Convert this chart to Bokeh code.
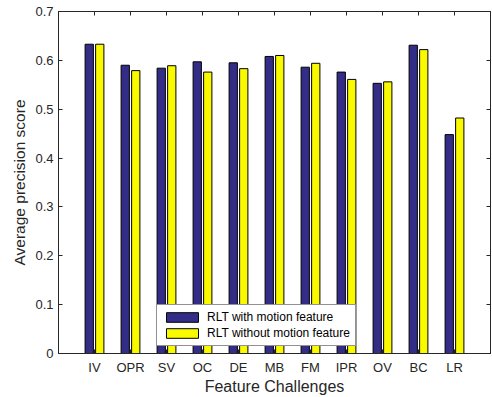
import numpy as np
from bokeh.plotting import figure
from bokeh.models import ColumnDataSource, Range1d, FixedTicker, LinearAxis
from bokeh.transform import dodge
from bokeh.embed import file_html
from bokeh.resources import INLINE

categories = ["IV", "OPR", "SV", "OC", "DE", "MB", "FM", "IPR", "OV", "BC", "LR"]
with_motion = [0.633, 0.590, 0.584, 0.597, 0.595, 0.608, 0.586, 0.576, 0.553, 0.631, 0.448]
without_motion = [0.633, 0.579, 0.589, 0.576, 0.583, 0.610, 0.594, 0.561, 0.556, 0.622, 0.482]
y_ticks = [0, 0.1, 0.2, 0.3, 0.4, 0.5, 0.6, 0.7]
y_tick_labels = ["0", "0.1", "0.2", "0.3", "0.4", "0.5", "0.6", "0.7"]

x_pos = list(range(1, len(categories) + 1))
source = ColumnDataSource(dict(x=x_pos, a=with_motion, b=without_motion))

AX = "#262626"
FONT = "Liberation Sans"

p = figure(width=492, height=397, x_range=Range1d(0, 12), y_range=Range1d(0, 0.7),
           output_backend="svg", toolbar_location=None,
           min_border_left=58, min_border_right=2, min_border_top=11, min_border_bottom=44)
p.background_fill_color = "white"
p.border_fill_color = "white"
p.outline_line_color = AX
p.grid.visible = False

p.vbar(x=dodge("x", -0.146, range=p.x_range), top="a", width=0.23, source=source,
       fill_color="#332d87", line_color="black", line_width=1,
       legend_label="RLT with motion feature")
p.vbar(x=dodge("x", 0.146, range=p.x_range), top="b", width=0.23, source=source,
       fill_color="#f9f900", line_color="black", line_width=1,
       legend_label="RLT without motion feature")

# bottom axis
xa = p.xaxis[0]
xa.ticker = FixedTicker(ticks=x_pos)
xa.major_label_overrides = {i: c for i, c in zip(x_pos, categories)}
xa.axis_label = "Feature Challenges"
xa.major_label_standoff = 6
xa.axis_label_standoff = 0

# left axis
ya = p.yaxis[0]
ya.ticker = FixedTicker(ticks=y_ticks)
ya.major_label_overrides = {t: l for t, l in zip(y_ticks, y_tick_labels)}
ya.axis_label = "Average precision score"
ya.major_label_standoff = 5
ya.axis_label_standoff = 4

for ax in (xa, ya):
    ax.axis_line_color = AX
    ax.major_tick_line_color = AX
    ax.major_tick_in = 4
    ax.major_tick_out = 0
    ax.minor_tick_line_color = None
    ax.major_label_text_font = FONT
    ax.major_label_text_font_size = "13px"
    ax.major_label_text_color = AX
    ax.axis_label_text_font = FONT
    ax.axis_label_text_font_style = "normal"
    ax.axis_label_text_color = AX
xa.axis_label_text_font_size = "16px"
ya.axis_label_text_font_size = "15.5px"

# mirrored box axes (top / right), ticks only
top = LinearAxis(ticker=FixedTicker(ticks=x_pos))
right = LinearAxis(ticker=FixedTicker(ticks=y_ticks))
for ax in (top, right):
    ax.axis_line_color = AX
    ax.major_tick_line_color = AX
    ax.major_tick_in = 4
    ax.major_tick_out = 0
    ax.minor_tick_line_color = None
    ax.major_label_text_font_size = "1px"
    ax.major_label_text_color = None
    ax.major_label_standoff = 0
p.add_layout(top, "above")
p.add_layout(right, "right")

leg = p.legend[0]
leg.location = (98, 7)
leg.label_text_font = FONT
leg.label_text_font_size = "12px"
leg.label_text_color = "black"
leg.glyph_width = 40
leg.glyph_height = 12
leg.label_height = 14
leg.label_standoff = 5
leg.spacing = 2
leg.padding = 5
leg.margin = 0
leg.border_line_color = AX
leg.border_line_width = 1
leg.background_fill_color = "white"
leg.background_fill_alpha = 1

open("out.html", "w").write(file_html(p, INLINE))
